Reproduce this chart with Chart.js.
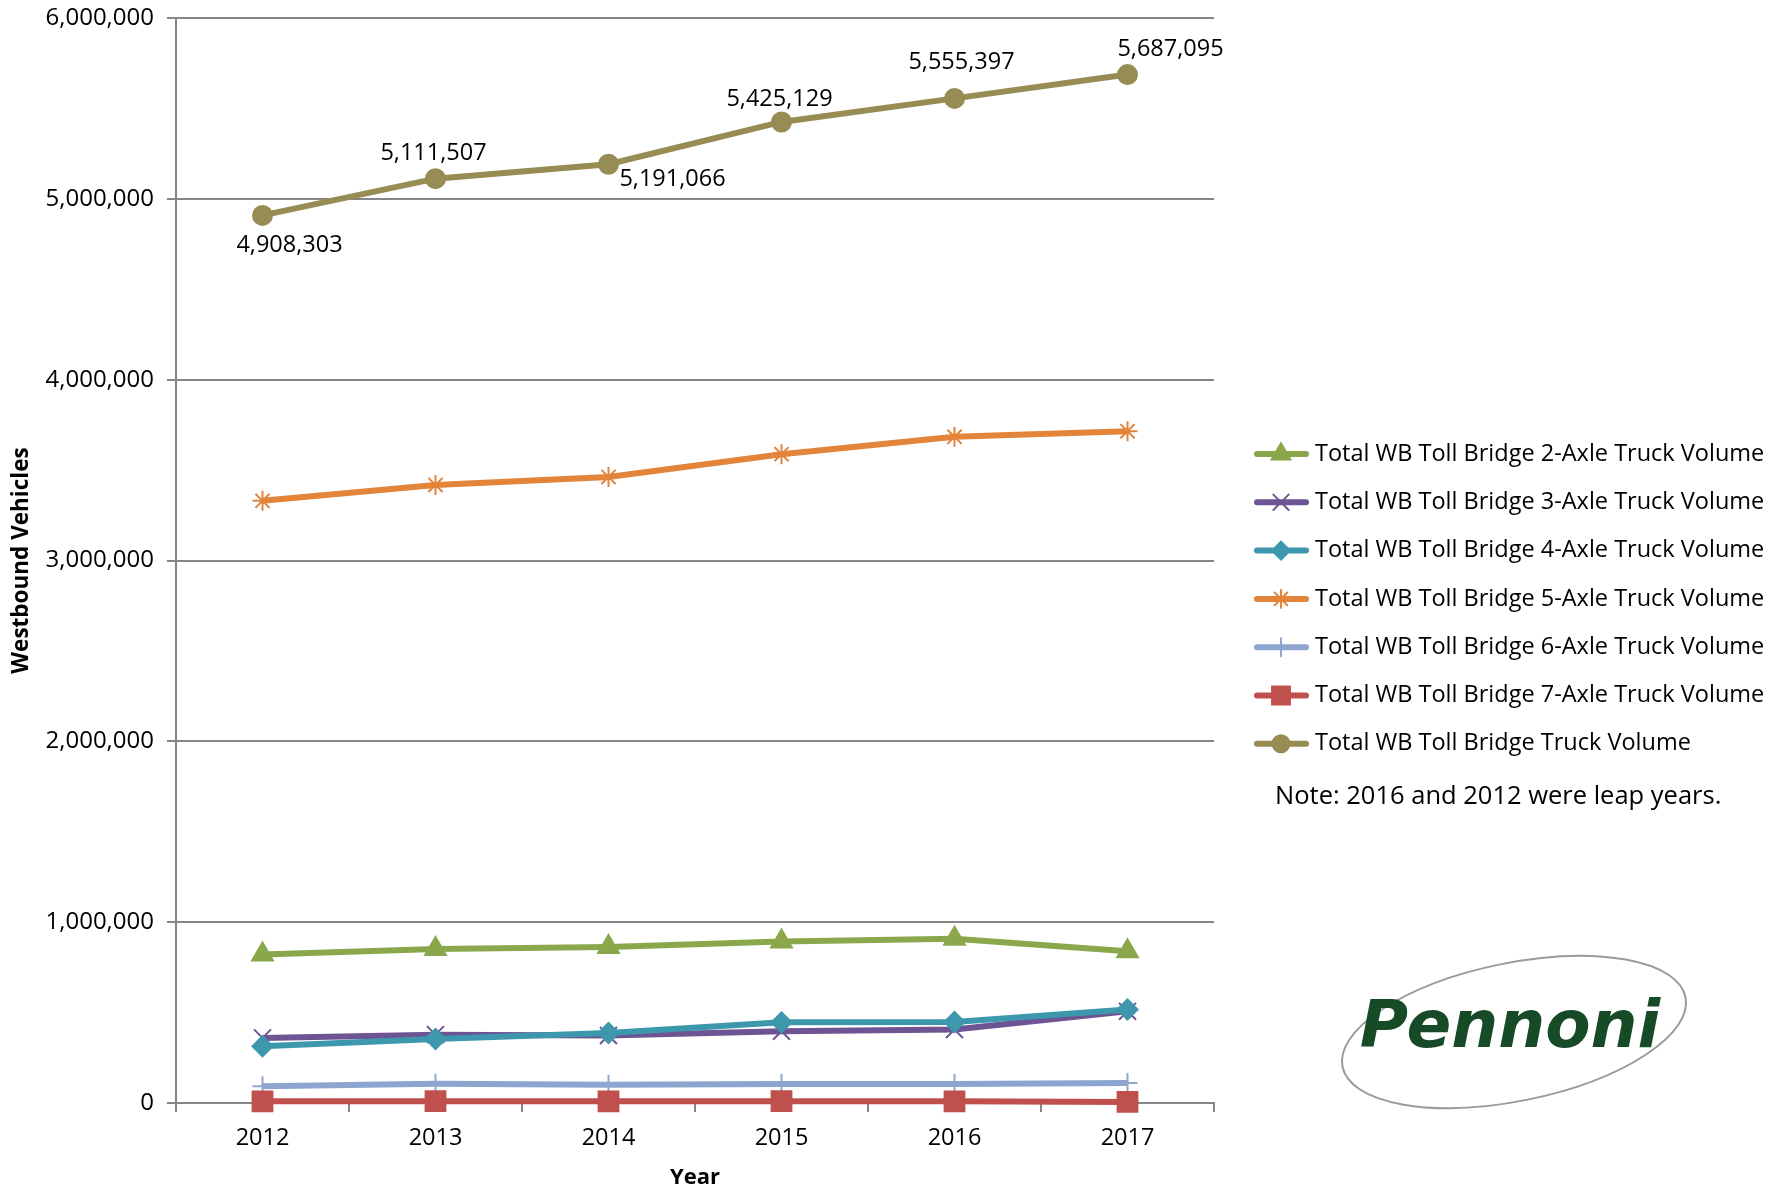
<!DOCTYPE html>
<html>
<head>
<meta charset="utf-8">
<script src="https://cdn.jsdelivr.net/npm/chart.js@4/dist/chart.umd.min.js"></script>
<style>
  html, body { margin: 0; padding: 0; background: #fff; }
  #wrap { width: 1788px; height: 1193px; }
</style>
</head>
<body>
<div id="wrap"><canvas id="truckChart" width="1788" height="1193"></canvas></div>
<script>
// Data
const years = ['2012', '2013', '2014', '2015', '2016', '2017'];
const axle2 = [821000, 852000, 862000, 893000, 908000, 839000];
const axle3 = [360000, 378000, 373000, 397000, 406000, 507000];
const axle4 = [314000, 354000, 387000, 446000, 448000, 517000];
const axle5 = [3330000, 3418000, 3462000, 3588000, 3684000, 3715000];
const axle6 = [92000, 107000, 101000, 105000, 105000, 111000];
const axle7 = [9000, 10000, 9000, 10000, 9000, 6000];
const totalVol = [4908303, 5111507, 5191066, 5425129, 5555397, 5687095];
const yTicks = [0, 1000000, 2000000, 3000000, 4000000, 5000000, 6000000];

const FONT = "'Open Sans', sans-serif";

// label offsets for the total series (px from the point)
const totalLabelOffsets = [[27, 30], [-2, -25], [64, 15], [-2, -23], [7, -36], [43, -25]];

const series = [
    { label: 'Total WB Toll Bridge 2-Axle Truck Volume', data: axle2, color: '#8aa84b', style: 'triangle', radius: 12, order: 2 },
    { label: 'Total WB Toll Bridge 3-Axle Truck Volume', data: axle3, color: '#6f5494', style: 'crossRot', radius: 12, order: 4 },
    { label: 'Total WB Toll Bridge 4-Axle Truck Volume', data: axle4, color: '#3d97ad', style: 'rectRot', radius: 10, order: 3 },
    { label: 'Total WB Toll Bridge 5-Axle Truck Volume', data: axle5, color: '#e2843a', style: 'star', radius: 10, order: 5 },
    { label: 'Total WB Toll Bridge 6-Axle Truck Volume', data: axle6, color: '#8ea6cf', style: 'cross', radius: 10, order: 6 },
    { label: 'Total WB Toll Bridge 7-Axle Truck Volume', data: axle7, color: '#c0504d', style: 'rect', radius: 14, order: 1 },
    { label: 'Total WB Toll Bridge Truck Volume', data: totalVol, color: '#968c54', style: 'circle', radius: 9.5, order: 0 }
];

const datasets = series.map(s => ({
    label: s.label,
    data: s.data,
    borderColor: s.color,
    backgroundColor: s.color,
    borderWidth: 6,
    pointStyle: s.style,
    pointRadius: s.radius,
    pointBorderWidth: 2,
    pointBackgroundColor: s.color,
    pointBorderColor: s.color,
    tension: 0,
    clip: false,
    order: s.order
}));

// custom legend + note + logo drawn on the canvas
const sideStuff = {
    id: 'sideStuff',
    afterDraw(chart) {
        const ctx = chart.ctx;
        ctx.save();
        series.forEach((s, i) => {
            const y = 454 + i * 48.3;
            ctx.strokeStyle = s.color;
            ctx.lineWidth = 6;
            ctx.lineCap = 'round';
            ctx.beginPath();
            ctx.moveTo(1257, y);
            ctx.lineTo(1306, y);
            ctx.stroke();
            ctx.fillStyle = s.color;
            ctx.lineWidth = 2;
            Chart.helpers.drawPoint(ctx, { pointStyle: s.style, radius: s.radius * 0.9, rotation: 0, borderWidth: 2 }, 1281, y);
            ctx.fillStyle = '#000';
            ctx.font = '23.5px ' + FONT;
            ctx.textAlign = 'left';
            ctx.textBaseline = 'middle';
            ctx.fillText(s.label, 1315, y);
        });
        ctx.font = '25.5px ' + FONT;
        ctx.fillText('Note: 2016 and 2012 were leap years.', 1275, 797);

        // Pennoni logo
        ctx.translate(1514, 1032);
        ctx.rotate(-0.2);
        ctx.strokeStyle = '#9a9a9a';
        ctx.lineWidth = 2;
        ctx.beginPath();
        ctx.ellipse(0, 0, 175, 69, 0, 0, Math.PI * 2);
        ctx.stroke();
        ctx.rotate(0.2);
        ctx.fillStyle = '#174a27';
        ctx.font = 'italic bold 66px "DejaVu Sans", sans-serif';
        ctx.textAlign = 'center';
        ctx.fillText('Pennoni', -4, -2);
        ctx.restore();
    }
};

// data labels on the total line
const totalLabels = {
    id: 'totalLabels',
    afterDatasetsDraw(chart) {
        const idx = series.length - 1;
        const meta = chart.getDatasetMeta(idx);
        const ctx = chart.ctx;
        ctx.save();
        ctx.fillStyle = '#000';
        ctx.font = '23.5px ' + FONT;
        ctx.textAlign = 'center';
        ctx.textBaseline = 'middle';
        meta.data.forEach((pt, i) => {
            const off = totalLabelOffsets[i];
            ctx.fillText(totalVol[i].toLocaleString('en-US'), pt.x + off[0], pt.y + off[1]);
        });
        ctx.restore();
    }
};

const config = {
    type: 'line',
    data: { labels: years, datasets: datasets },
    options: {
        responsive: false,
        animation: false,
        layout: { padding: { left: 0, right: 574, top: 18, bottom: 0 } },
        plugins: {
            legend: { display: false },
            tooltip: { enabled: false }
        },
        scales: {
            x: {
                offset: true,
                grid: {
                    offset: true,
                    drawOnChartArea: false,
                    color: '#868686',
                    lineWidth: 2,
                    tickLength: 9
                },
                border: { color: '#868686', width: 2 },
                ticks: { color: '#000', font: { family: FONT, size: 23.5 }, padding: 12 },
                title: { display: true, text: 'Year', color: '#000', font: { family: FONT, size: 22, weight: 'bold' }, padding: { top: 2, bottom: 2 } },
                afterFit(scale) { scale.height = 90; }
            },
            y: {
                min: 0,
                max: 6000000,
                afterBuildTicks(scale) { scale.ticks = yTicks.map(v => ({ value: v })); },
                grid: { color: '#868686', lineWidth: 2, tickLength: 9 },
                border: { color: '#868686', width: 2 },
                ticks: {
                    color: '#000',
                    font: { family: FONT, size: 24 },
                    padding: 13,
                    callback: v => Number(v).toLocaleString('en-US')
                },
                title: { display: true, text: 'Westbound Vehicles', color: '#000', font: { family: FONT, size: 22.5, weight: 'bold' }, padding: { top: 8, bottom: 4 } },
                afterFit(scale) {
                    scale.width = 176;
                    scale.paddingTop = 0;
                    scale.paddingBottom = 0;
                }
            }
        }
    },
    plugins: [totalLabels, sideStuff]
};

new Chart(document.getElementById('truckChart').getContext('2d'), config);
</script>
</body>
</html>
